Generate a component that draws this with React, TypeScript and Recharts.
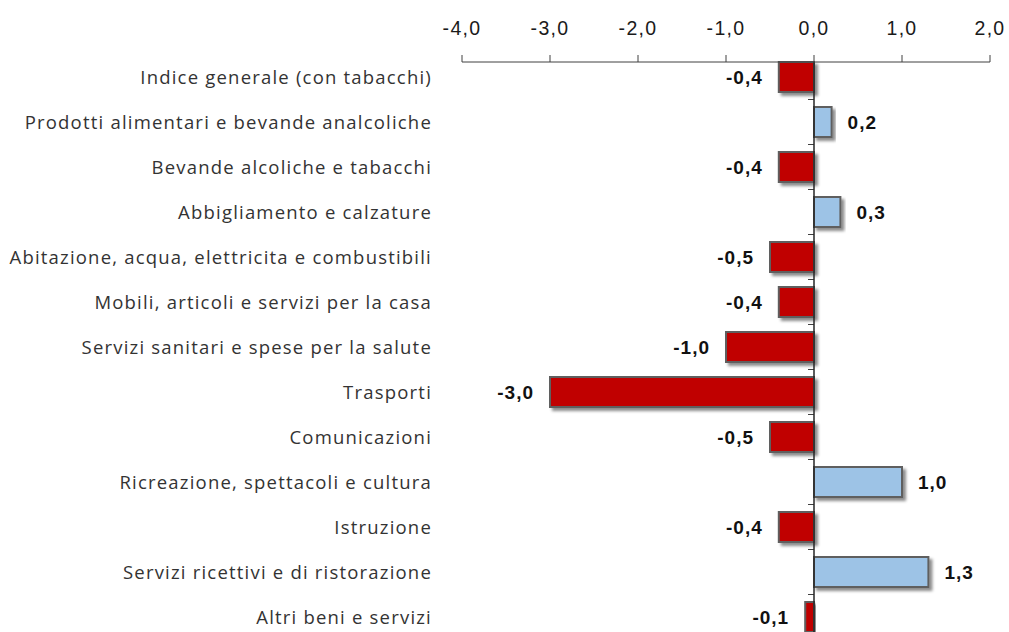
import React from 'react';
import { BarChart, Bar, XAxis, YAxis, ReferenceLine, LabelList } from 'recharts';

const categories = [
  'Indice generale (con tabacchi)',
  'Prodotti alimentari e bevande analcoliche',
  'Bevande alcoliche e tabacchi',
  'Abbigliamento e calzature',
  'Abitazione, acqua, elettricita e combustibili',
  'Mobili, articoli e servizi per la casa',
  'Servizi sanitari e spese per la salute',
  'Trasporti',
  'Comunicazioni',
  'Ricreazione, spettacoli e cultura',
  'Istruzione',
  'Servizi ricettivi e di ristorazione',
  'Altri beni e servizi',
];
const values = [-0.4, 0.2, -0.4, 0.3, -0.5, -0.4, -1.0, -3.0, -0.5, 1.0, -0.4, 1.3, -0.1];
const xTicks = [-4, -3, -2, -1, 0, 1, 2];

const data = categories.map((name, i) => ({ name, value: values[i] }));

const fmt = (v: number) => v.toFixed(1).replace('.', ',');

const GAP = 7.5;

const BarShape = (props: any) => {
  const { x, y, width, height, payload } = props;
  const left = Math.min(x, x + width);
  const w = Math.abs(width);
  const neg = payload.value < 0;
  const zeroX = neg ? left + w : left;
  const tickY = y + height + GAP;
  return (
    <g>
      <rect
        x={left}
        y={y}
        width={w}
        height={height}
        fill={neg ? '#C00000' : '#9DC3E6'}
        stroke="#5f5f5f"
        strokeWidth={2}
        filter="url(#barShadow)"
      />
      <line x1={zeroX - 6} y1={tickY} x2={zeroX} y2={tickY} stroke="#404040" strokeWidth={1} />
    </g>
  );
};

const ValueLabel = (props: any) => {
  const { x, y, width, height, value } = props;
  const left = Math.min(x, x + width);
  const right = Math.max(x, x + width);
  const neg = value < 0;
  return (
    <text
      x={neg ? left - 16 : right + 16}
      y={y + height / 2}
      dy="0.36em"
      textAnchor={neg ? 'end' : 'start'}
      fontFamily="'Liberation Sans', Arial, sans-serif"
      fontWeight="bold"
      fontSize={19}
      letterSpacing={1}
      fill="#111"
    >
      {fmt(value)}
    </text>
  );
};

export default function App() {
  return (
    <div style={{ position: 'absolute', left: 0, top: 0, width: 1009, height: 632, background: '#fff', overflow: 'hidden' }}>
      <BarChart
        width={1009}
        height={632}
        data={data}
        layout="vertical"
        margin={{ top: 0, right: 19, bottom: 0, left: 0 }}
        barCategoryGap={GAP}
      >
        <defs>
          <filter id="barShadow" x="-20%" y="-20%" width="140%" height="160%">
            <feDropShadow dx="3" dy="3" stdDeviation="1.8" floodColor="#000" floodOpacity="0.45" />
          </filter>
        </defs>
        <XAxis
          type="number"
          orientation="top"
          domain={[-4, 2]}
          ticks={xTicks}
          tickFormatter={fmt}
          height={62}
          tickSize={7}
          tickMargin={20}
          axisLine={{ stroke: '#404040' }}
          tickLine={{ stroke: '#404040' }}
          tick={{ fill: '#1a1a1a', fontSize: 19.5, letterSpacing: 1.3, fontFamily: "'Liberation Sans', Arial, sans-serif" }}
          interval={0}
        />
        <YAxis
          type="category"
          dataKey="name"
          width={462}
          axisLine={false}
          tickLine={false}
          tickSize={0}
          tickMargin={30}
          padding={{ top: -7.5, bottom: -7.5 }}
          interval={0}
          tick={{ fill: '#333', fontSize: 18.5, letterSpacing: 1.2, fontFamily: "'Open Sans', sans-serif" }}
        />
        <Bar dataKey="value" shape={<BarShape />} isAnimationActive={false}>
          <LabelList dataKey="value" content={<ValueLabel />} />
        </Bar>
        <ReferenceLine x={0} stroke="#262626" strokeWidth={1.5} />
      </BarChart>
    </div>
  );
}
